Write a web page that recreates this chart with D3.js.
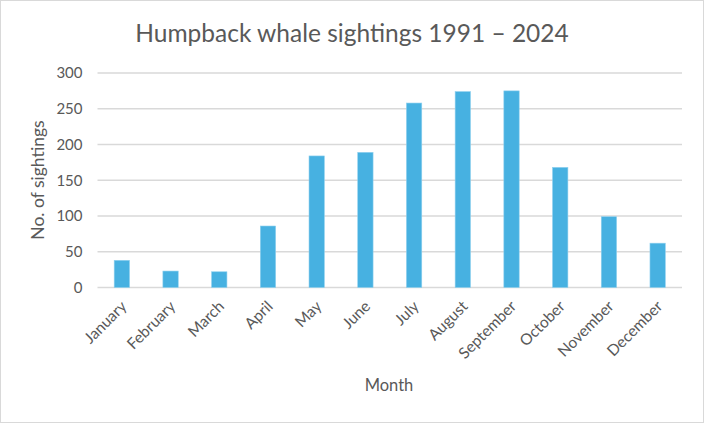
<!DOCTYPE html>
<html><head><meta charset="utf-8">
<script src="https://cdn.jsdelivr.net/npm/d3@7"></script>
<style>body{margin:0;background:#fff}svg{display:block}</style>
</head><body>
<script>
const months = ["January","February","March","April","May","June","July","August","September","October","November","December"];
const sightings = [38,23,22,86,184,189,258,274,275,168,99,62];
const yTicks = [0,50,100,150,200,250,300];

const W=704,H=423;
const svg=d3.select("body").append("svg").attr("width",W).attr("height",H);
const font="Lato, 'Open Sans', sans-serif";
svg.append("rect").attr("x",0.5).attr("y",0.5).attr("width",W-1).attr("height",H-1).attr("fill","#fff").attr("stroke","#d9d9d9");

const m={l:97.5,r:682,t:73,b:287.5};
const x=d3.scaleBand().domain(months).range([m.l,m.r]).padding(0);
const y=d3.scaleLinear().domain([0,300]).range([m.b,m.t]);

const g=svg.append("g");
g.selectAll("line.grid").data(yTicks).join("line").attr("class","grid")
 .attr("x1",m.l).attr("x2",m.r).attr("y1",d=>y(d)).attr("y2",d=>y(d))
 .attr("stroke","#d9d9d9").attr("stroke-width",1.3);

const bw=x.bandwidth()*0.315;
g.selectAll("rect.bar").data(sightings).join("rect").attr("class","bar")
 .attr("x",(d,i)=>x(months[i])+x.bandwidth()/2-bw/2)
 .attr("width",bw)
 .attr("y",d=>y(d)).attr("height",d=>y(0)-y(d))
 .attr("fill","#47B1E1").attr("stroke","#8fd0ee").attr("stroke-width",0.6);

const yAxis=d3.axisLeft(y).tickValues(yTicks).tickSize(0).tickPadding(15);
const ya=svg.append("g").attr("transform",`translate(${m.l},0)`).call(yAxis);
ya.select(".domain").remove();
ya.selectAll("text").attr("font-family",font).attr("font-size",15).attr("fill","#595959");

const xAxis=d3.axisBottom(x).tickSize(0).tickPadding(0);
const xa=svg.append("g").attr("transform",`translate(0,${m.b})`).call(xAxis);
xa.select(".domain").remove();
xa.selectAll("text").attr("font-family",font).attr("font-size",15.5).attr("fill","#595959")
 .attr("text-anchor","end").attr("dy","0.35em")
 .attr("transform","translate(2,16) rotate(-45)");

svg.append("text").attr("x",352).attr("y",42).attr("text-anchor","middle")
 .attr("font-family",font).attr("font-size",24.5).attr("fill","#595959")
 .text("Humpback whale sightings 1991 – 2024");
svg.append("text").attr("transform","translate(44,180) rotate(-90)").attr("text-anchor","middle")
 .attr("font-family",font).attr("font-size",17.5).attr("fill","#595959").text("No. of sightings");
svg.append("text").attr("x",389).attr("y",391).attr("text-anchor","middle")
 .attr("font-family",font).attr("font-size",16.5).attr("fill","#595959").text("Month");
</script>
</body></html>
